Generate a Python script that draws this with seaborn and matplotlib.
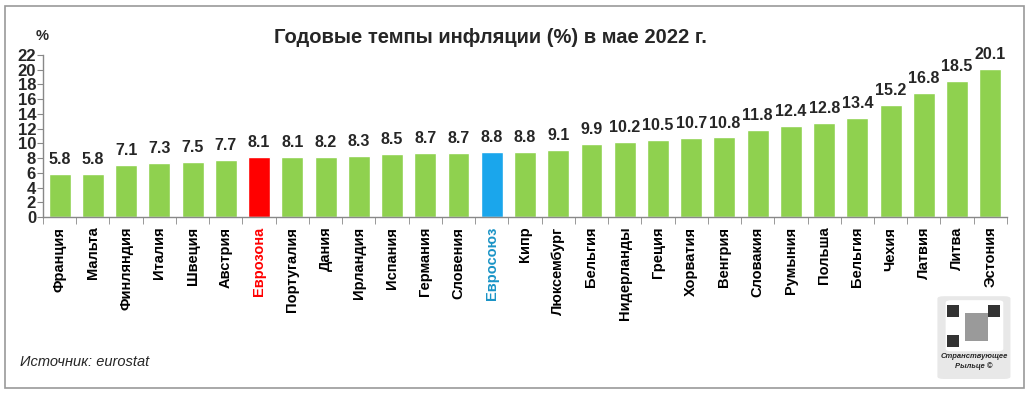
import matplotlib
matplotlib.use("Agg")
import matplotlib.pyplot as plt
import pandas as pd
import seaborn as sns
from matplotlib.patches import FancyBboxPatch, Rectangle

countries = [
    "Франция", "Мальта", "Финляндия", "Италия", "Швеция", "Австрия", "Еврозона",
    "Португалия", "Дания", "Ирландия", "Испания", "Германия", "Словения", "Евросоюз",
    "Кипр", "Люксембург", "Бельгия", "Нидерланды", "Греция", "Хорватия", "Венгрия",
    "Словакия", "Румыния", "Польша", "Бельгия", "Чехия", "Латвия", "Литва", "Эстония",
]
inflation = [
    5.8, 5.8, 7.1, 7.3, 7.5, 7.7, 8.1, 8.1, 8.2, 8.3, 8.5, 8.7, 8.7, 8.8,
    8.8, 9.1, 9.9, 10.2, 10.5, 10.7, 10.8, 11.8, 12.4, 12.8, 13.4, 15.2, 16.8, 18.5, 20.1,
]
highlight = {"Еврозона": "#ff0000", "Евросоюз": "#1aa6ec"}
label_colors = {"Еврозона": "#ff0000", "Евросоюз": "#1b94c6"}
bar_green = "#8fd14f"

df = pd.DataFrame({"pos": range(len(countries)), "country": countries, "value": inflation})
palette = {i: highlight.get(c, bar_green) for i, c in enumerate(countries)}

sns.set_style("white")
plt.rcParams["font.family"] = ["Liberation Sans", "DejaVu Sans"]

fig = plt.figure(figsize=(10.29, 3.96), dpi=100)
ax = fig.add_axes([0.0418, 0.452, 0.9368, 0.409])

sns.barplot(data=df, x="pos", y="value", hue="pos", palette=palette,
            legend=False, width=0.66, saturation=1, ax=ax)

for cont in ax.containers:
    ax.bar_label(cont, fmt="%.1f", padding=5, fontsize=11.5, fontweight="bold")

ax.set_xlim(-0.5, len(countries) - 0.5)
ax.set_ylim(0, 22)
ax.set_yticks(range(0, 23, 2))
ax.set_yticklabels([str(v) for v in range(0, 23, 2)], fontsize=12, fontweight="bold")
ax.set_xticks(range(len(countries)))
ax.set_xticklabels(countries, rotation=90, fontsize=10.5, fontweight="bold")
for lbl, c in zip(ax.get_xticklabels(), countries):
    lbl.set_color(label_colors.get(c, "black"))
ax.set_xticks([i - 0.5 for i in range(len(countries) + 1)], minor=True)
ax.tick_params(axis="x", which="major", length=0, pad=7)
ax.tick_params(axis="x", which="minor", length=5, color="#888888", direction="out", bottom=True)
ax.tick_params(axis="y", length=4, color="#888888", left=True, pad=1)
ax.set_xlabel("")
ax.set_ylabel("")
for s in ["top", "right"]:
    ax.spines[s].set_visible(False)
for s in ["left", "bottom"]:
    ax.spines[s].set_color("#888888")
    ax.spines[s].set_linewidth(1)

fig.text(0.477, 0.905, "Годовые темпы инфляции (%) в мае 2022 г.",
         ha="center", va="center", fontsize=14.5, fontweight="bold")
fig.text(0.041, 0.91, "%", ha="center", va="center", fontsize=10.5, fontweight="bold")
fig.text(0.019, 0.085, "Источник: eurostat", ha="left", va="center",
         fontsize=10.5, style="italic")

# outer frame
fig.patches.append(Rectangle((0.005, 0.02), 0.99, 0.965, transform=fig.transFigure,
                             fill=False, edgecolor="#999999", linewidth=1.2))

# logo box in the corner
fig.patches.append(FancyBboxPatch((0.913, 0.045), 0.067, 0.205, transform=fig.transFigure,
                                  boxstyle="round,pad=0.002,rounding_size=0.006",
                                  facecolor="#e8e8e8", edgecolor="none"))
fig.patches.append(FancyBboxPatch((0.921, 0.115), 0.052, 0.125, transform=fig.transFigure,
                                  boxstyle="round,pad=0.002,rounding_size=0.006",
                                  facecolor="white", edgecolor="none"))
for fx, fy in [(0.926, 0.215), (0.966, 0.215), (0.926, 0.14)]:
    fig.patches.append(Rectangle((fx - 0.006, fy - 0.015), 0.012, 0.03,
                                 transform=fig.transFigure, facecolor="#333333",
                                 edgecolor="none"))
fig.patches.append(Rectangle((0.938, 0.14), 0.022, 0.07, transform=fig.transFigure,
                             facecolor="#9a9a9a", edgecolor="none"))
fig.text(0.9465, 0.087, "Странствующее\nРыльце ©", ha="center", va="center",
         fontsize=5.5, style="italic", fontweight="bold", linespacing=1.3)

fig.savefig("out.png", dpi=100)
